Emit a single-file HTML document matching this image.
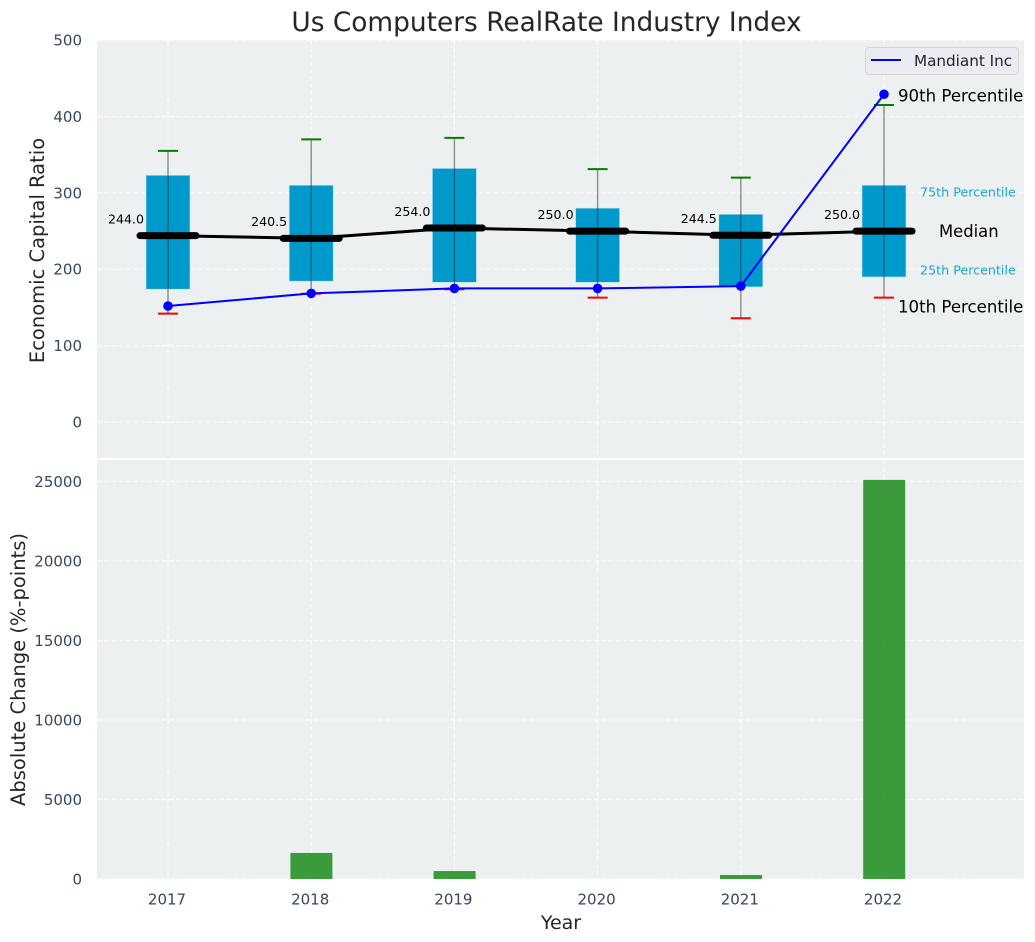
<!DOCTYPE html>
<html>
<head>
<meta charset="utf-8">
<title>Us Computers RealRate Industry Index</title>
<style>
html,body{margin:0;padding:0;background:#fff;}
svg{display:block;font-family:"DejaVu Sans","Liberation Sans",sans-serif;}
</style>
</head>
<body>
<svg id="chart" width="1035" height="942" viewBox="0 0 1035 942" xmlns="http://www.w3.org/2000/svg"></svg>
<script>
var years = [2017, 2018, 2019, 2020, 2021, 2022];
var p10 = [142, 168, 174, 163, 136, 163];
var p25 = [174, 184.5, 183, 183, 177, 190];
var medians = [244.0, 240.5, 254.0, 250.0, 244.5, 250.0];
var p75 = [323, 310, 332, 280, 272, 310];
var p90 = [355, 370, 372, 331, 320, 415];
var mandiant = [152, 168.5, 175, 175, 178, 429];
var absChange = [0, 1640, 500, 0, 250, 25100];
var ratioTicks = [0, 100, 200, 300, 400, 500];
var changeTicks = [0, 5000, 10000, 15000, 20000, 25000];

var svg = document.getElementById('chart');
var NS = 'http://www.w3.org/2000/svg';
var left = 97, right = 1024;
var topY0 = 40, topY1 = 458, botY0 = 460, botY1 = 879;

function xScale(v) { return 168 + (v - 2017) * 143.2; }
function yTop(v) { return 422.2 - v * 0.7644; }
function yBot(v) { return 879 - v * 0.0159; }

function make(tag, props, text) {
  var el = document.createElementNS(NS, tag);
  for (var k in props) { el.setAttribute(k, props[k]); }
  if (text !== undefined) { el.textContent = text; }
  svg.appendChild(el);
  return el;
}
var el;

el = make('rect', {x: left, y: topY0, width: right - left, height: topY1 - topY0, fill: '#ecf0f1'});


el = make('rect', {x: left, y: botY0, width: right - left, height: botY1 - botY0, fill: '#ecf0f1'});



var gridStyle = {stroke: '#ffffff', 'stroke-width': 1.2, 'stroke-dasharray': '5 2.2', 'stroke-opacity': 0.75, fill: 'none'};
function gridLine(x1, y1, x2, y2) {
  var p = {x1: x1, y1: y1, x2: x2, y2: y2};
  for (var k in gridStyle) { p[k] = gridStyle[k]; }
  return make('line', p);
}

ratioTicks.forEach(function (t) {
  var y = yTop(t);
  var g = gridLine(left, y, right, y);
  
  
  var l = make('text', {x: 82, y: y + 5.4, 'text-anchor': 'end', 'font-size': 15, fill: '#34495e'}, String(t));
  
  
});

changeTicks.forEach(function (t) {
  var y = yBot(t);
  var g = gridLine(left, y, right, y);
  
  
  var l = make('text', {x: 82, y: y + 5.4, 'text-anchor': 'end', 'font-size': 15, fill: '#34495e'}, String(t));
  
  
});

years.forEach(function (yr) {
  var x = xScale(yr);
  var g1 = gridLine(x, topY0, x, topY1);
  
  
  var g2 = gridLine(x, botY0, x, botY1);
  
  
  var l = make('text', {x: x - 1, y: 904.5, 'text-anchor': 'middle', 'font-size': 15, fill: '#34495e'}, String(yr));
  
  
});

/* boxes */
years.forEach(function (yr, i) {
  var x = xScale(yr);
  var box = make('rect', {x: x - 22, y: yTop(p75[i]), width: 44, height: yTop(p25[i]) - yTop(p75[i]), fill: '#0099cc', stroke: '#bfe3ef', 'stroke-width': 0.6});
  
  
});

/* whiskers */
years.forEach(function (yr, i) {
  var x = xScale(yr);
  var w = make('line', {x1: x, y1: yTop(p90[i]), x2: x, y2: yTop(p10[i]), stroke: '#333333', 'stroke-width': 1.4, 'stroke-opacity': 0.55});
  
  
  var lo = make('line', {x1: x - 10, y1: yTop(p10[i]), x2: x + 10, y2: yTop(p10[i]), stroke: '#ff0000', 'stroke-width': 2});
  
  
  var hi = make('line', {x1: x - 10, y1: yTop(p90[i]), x2: x + 10, y2: yTop(p90[i]), stroke: '#008000', 'stroke-width': 2});
  
  
});

/* median connecting line */
el = make('polyline', {
  points: years.map(function (yr, i) { return xScale(yr) + ',' + yTop(medians[i]); }).join(' '),
  fill: 'none', stroke: '#000000', 'stroke-width': 3, 'stroke-linejoin': 'round'
});



years.forEach(function (yr, i) {
  var x = xScale(yr);
  var y = yTop(medians[i]);
  var m = make('line', {x1: x - 28, y1: y, x2: x + 28, y2: y, stroke: '#000000', 'stroke-width': 7, 'stroke-linecap': 'round'});
  
  
  var t = make('text', {x: x - 24, y: y - 12.2, 'text-anchor': 'end', 'font-size': 12.6, fill: '#000000'}, medians[i].toFixed(1));
  
  
});

/* Mandiant series */
el = make('polyline', {
  points: years.map(function (yr, i) { return xScale(yr) + ',' + yTop(mandiant[i]); }).join(' '),
  fill: 'none', stroke: '#0000ff', 'stroke-width': 2, 'stroke-linejoin': 'round'
});



years.forEach(function (yr, i) {
  var c = make('circle', {cx: xScale(yr), cy: yTop(mandiant[i]), r: 4.8, fill: '#0000ff'});
  
  
});

/* percentile annotations, placed beside the last box */
var last = years.length - 1;
var lastX = xScale(years[last]);

el = make('text', {x: lastX + 14, y: yTop(mandiant[last]) + 7, 'font-size': 16.6, fill: '#000000'}, '90th Percentile');


el = make('text', {x: lastX + 36, y: yTop(p75[last]) + 11.5, 'font-size': 12.7, fill: '#1ca3cf'}, '75th Percentile');


el = make('text', {x: lastX + 55, y: yTop(medians[last]) + 5.8, 'font-size': 16.4, fill: '#000000'}, 'Median');


el = make('text', {x: lastX + 36, y: yTop(p25[last]) - 2.5, 'font-size': 12.7, fill: '#1ca3cf'}, '25th Percentile');


el = make('text', {x: lastX + 14, y: yTop(p10[last]) + 15, 'font-size': 16.6, fill: '#000000'}, '10th Percentile');



/* absolute change bars */
years.forEach(function (yr, i) {
  if (absChange[i] <= 0) { return; }
  var y = yBot(absChange[i]);
  var b = make('rect', {x: xScale(yr) - 20.8, y: y, width: 42, height: botY1 - y, fill: '#008000', 'fill-opacity': 0.76});
  
  
});

/* legend */
el = make('rect', {x: 865.5, y: 47.5, width: 153, height: 27, rx: 3.5, fill: '#eaeaf2', 'fill-opacity': 0.95, stroke: '#d6d6d6', 'stroke-width': 1});


el = make('line', {x1: 871, y1: 60, x2: 901, y2: 60, stroke: '#0000ff', 'stroke-width': 2});


el = make('text', {x: 914, y: 66, 'font-size': 15.2, fill: '#262626'}, 'Mandiant Inc');



/* titles */
el = make('text', {x: 546.5, y: 31, 'text-anchor': 'middle', 'font-size': 26.4, fill: '#262626'}, 'Us Computers RealRate Industry Index');


el = make('text', {x: 561, y: 929, 'text-anchor': 'middle', 'font-size': 19, fill: '#262626'}, 'Year');


el = make('text', {transform: 'translate(44 250.5) rotate(-90)', 'text-anchor': 'middle', 'font-size': 19.5, fill: '#262626'}, 'Economic Capital Ratio');


el = make('text', {transform: 'translate(25 669.5) rotate(-90)', 'text-anchor': 'middle', 'font-size': 19.5, fill: '#262626'}, 'Absolute Change (%-points)');


</script>
</body>
</html>
